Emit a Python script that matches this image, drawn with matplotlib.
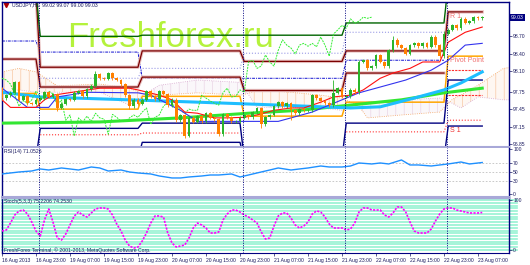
import numpy as np
import matplotlib
matplotlib.use("Agg")
import matplotlib.pyplot as plt

plt.rcParams['font.family'] = ['Liberation Sans', 'DejaVu Sans']
plt.rcParams['hatch.linewidth'] = 0.4
nan = np.nan

# ---------------- USDJPY H1 candles (16 Aug 15:00 .. 23 Aug 08:00) ----------------
closes = [97.64, 97.69, 97.73, 97.91, 97.61, 97.67, 97.55, 97.54, 97.61, 97.64,
          97.74, 97.66, 97.71, 97.47, 97.54, 97.62, 97.61, 97.73, 97.76, 97.67,
          97.79, 97.85, 98.05, 97.98, 97.97, 98.07, 97.98, 97.95, 97.88, 97.69,
          97.50, 97.61, 97.54, 97.61, 97.76, 97.67, 97.62, 97.76, 97.71, 97.52,
          97.61, 97.26, 97.35, 96.99, 97.30, 97.23, 97.33, 97.24, 97.38, 97.30,
          97.28, 97.02, 97.36, 97.31, 97.24, 97.24, 97.30, 97.35, 97.31, 97.40,
          97.47, 97.19, 97.31, 97.35, 97.50, 97.57, 97.50, 97.55, 97.43, 97.38,
          97.45, 97.43, 97.43, 97.69, 97.64, 97.59, 97.55, 97.52, 97.73, 97.81,
          97.66, 97.67, 97.78, 97.74, 98.26, 98.29, 98.15, 98.19, 98.38, 98.26,
          98.19, 98.46, 98.64, 98.55, 98.50, 98.40, 98.55, 98.58, 98.53, 98.58,
          98.52, 98.69, 98.55, 98.36, 98.74, 98.81, 98.89, 98.84, 99.00, 98.93,
          98.96, 99.03, 99.01, 99.03]
first_open = 97.81
wick = 0.025
long_highs = {22: 98.10, 78: 97.95, 84: 98.30, 92: 98.70, 104: 98.80}
long_lows = {13: 97.42, 30: 97.45, 43: 96.95, 61: 97.12, 68: 97.26}

# ---------------- daily pivot levels (6 sessions) ----------------
seg_start = [0, 9, 33, 57, 81, 105]
seg_end = [8, 32, 56, 80, 104, 113]
r3_lvl = [99.45, 98.70, 98.72, 98.72, 98.93, 99.60]
r2_lvl = [99.45, 98.17, 98.45, 98.27, 98.45, 99.12]
r1_lvl = [98.31, 97.83, 98.00, 97.77, 98.07, nan]
pp_lvl = [97.72, 97.45, 97.67, 97.33, 97.57, 98.36]
s1_lvl = [96.60, 97.12, 97.21, 96.60, 97.21, 97.95]
s2_lvl = [nan, 96.60, 96.88, 96.60, 96.60, 97.16]
mid_hi_lvl = [98.62, 98.43, 97.98, 97.98, 98.29, nan]
mid_lo_lvl = [nan, 97.98, 98.15, 98.41, 98.77, nan]
red_lvl = [nan, 97.01, 97.04, nan, 97.06, 97.26]
red2_lvl = [nan, nan, nan, nan, nan, 97.69]
red3_lvl = [nan, nan, nan, nan, nan, 98.12]

# ---------------- moving averages / ichimoku ----------------
cyan_bars = [0, 9, 30, 46, 65, 82, 89, 97, 104, 108, 113]
cyan_vals = [97.74, 97.66, 97.61, 97.57, 97.52, 97.47, 97.49, 97.64, 97.78, 97.90, 98.09]
lime_bars = [0, 23, 42, 58, 70, 82, 94, 104, 113]
lime_vals = [97.21, 97.23, 97.30, 97.38, 97.43, 97.52, 97.61, 97.73, 97.81]
tenkan_bars = [0, 2, 8, 10, 12, 23, 30, 32, 37, 40, 43, 46, 50, 53, 57, 60, 64, 68, 71, 75,
               78, 82, 85, 89, 92, 96, 99, 103, 105, 109, 113]
tenkan_vals = [97.61, 97.48, 97.48, 97.61, 97.69, 97.81, 97.81, 97.78, 97.69, 97.61,
               97.40, 97.38, 97.30, 97.30, 97.31, 97.35, 97.43, 97.47, 97.47, 97.57,
               97.66, 97.69, 97.78, 97.98, 98.07, 98.15, 98.26, 98.26, 98.60, 98.77, 98.86]
kijun_bars = [0, 6, 11, 13, 20, 32, 35, 42, 46, 65, 73, 80, 84, 89, 95, 101, 105, 109, 113]
kijun_vals = [97.81, 97.48, 97.48, 97.66, 97.74, 97.73, 97.69, 97.43, 97.24, 97.24,
              97.40, 97.61, 97.73, 97.83, 97.95, 98.12, 98.29, 98.55, 98.58]
chikou_shift = 26
cloud_bars = [0, 4, 8, 13, 23, 30, 33, 37, 46, 56, 58, 60, 68, 75, 80, 84, 86, 94, 103,
              106, 108, 112, 118, 120]
span_a = [98.09, 98.15, 98.09, 97.85, 97.88, 97.81, 97.72, 97.69, 97.73, 97.69, 97.72,
          97.78, 97.74, 97.69, 97.64, 97.50, 97.30, 97.35, 97.40, 97.62, 97.69, 97.86,
          98.15, 98.17]
span_b = [97.74, 97.78, 97.74, 97.74, 97.74, 97.52, 97.68, 97.86, 97.95, 97.91, 97.70,
          97.48, 97.48, 97.47, 97.43, 97.55, 97.57, 97.61, 97.64, 97.55, 97.47, 97.66,
          97.61, 97.61]

# ---------------- RSI(14) and Stoch(5,3,3) ----------------
rsi_bars = [0, 2, 4, 7, 9, 11, 14, 16, 18, 21, 23, 25, 28, 30, 32, 35, 37, 40, 42, 44,
            47, 49, 51, 54, 56, 58, 61, 63, 65, 68, 70, 72, 75, 77, 80, 82, 84, 87, 89, 91,
            94, 96, 98, 101, 103, 105, 108, 110, 113]
rsi_vals = [45.6, 47.8, 50, 52.2, 56.7, 54.4, 58.9, 56.7, 54.4, 61.1, 58.9, 52.2, 54.4, 50,
            47.8, 45.6, 41.1, 36.7, 36.7, 38.9, 41.1, 43.3, 43.3, 45.6, 38.9, 43.3, 50, 54.4,
            58.9, 54.4, 56.7, 58.9, 63.3, 61.1, 61.1, 63.3, 70, 67.8, 70, 67.8, 76.7, 65.6,
            65.6, 63.3, 65.6, 67.8, 72.2, 67.8, 71.05]
stoch_vals = [38, 40, 54, 70, 78, 80, 72, 56, 38, 28, 60, 82, 56, 24, 20, 32, 50, 68, 76, 70,
              66, 74, 82, 84, 84, 82, 70, 52, 38, 20, 8, 4, 6, 18, 34, 54, 68, 68, 66, 34,
              14, 6, 8, 10, 24, 44, 54, 50, 44, 34, 34, 36, 60, 72, 80, 80, 76, 70, 66, 60,
              54, 36, 22, 24, 48, 68, 74, 74, 64, 50, 44, 48, 56, 72, 78, 76, 66, 52, 44, 44,
              44, 40, 42, 54, 76, 84, 84, 80, 80, 80, 70, 66, 74, 86, 86, 76, 56, 38, 34, 34,
              34, 42, 58, 72, 82, 84, 84, 80, 78, 76, 74, 74, 74, 75]

price_ticks = [98.70, 98.40, 98.10, 97.75, 97.45, 97.15, 96.85]
day_starts = [9, 57, 81, 105]
time_ticks = list(range(0, 113, 8))
time_labels = ['16 Aug 2013', '16 Aug 23:00', '19 Aug 07:00', '19 Aug 15:00', '19 Aug 23:00',
               '20 Aug 07:00', '20 Aug 15:00', '20 Aug 23:00', '21 Aug 07:00', '21 Aug 15:00',
               '21 Aug 23:00', '22 Aug 07:00', '22 Aug 15:00', '22 Aug 23:00', '23 Aug 07:00']

NAVY = '#000080'
TXT = '#1a1a60'
SEP = '#a8a8d8'

bars = np.arange(len(closes))
c = np.array(closes)
o = np.array([first_open] + closes[:-1])
hi = np.maximum(o, c) + wick
lo = np.minimum(o, c) - wick
for k, v in long_highs.items():
    hi[k] = v
for k, v in long_lows.items():
    lo[k] = v

W, H = 530, 265
def rect(x0, y0, x1, y1):
    return [x0 / W, 1 - y1 / H, (x1 - x0) / W, (y1 - y0) / H]

fig = plt.figure(figsize=(5.3, 2.65), dpi=100)
ax = fig.add_axes(rect(2, 2, 509, 147))
ax_rsi = fig.add_axes(rect(2, 148, 509, 197))
ax_st = fig.add_axes(rect(2, 198, 509, 253))
xmax = 119.3

for a in (ax, ax_rsi, ax_st):
    a.set_xlim(0, xmax)
    a.set_facecolor('white')
    for s in ('left', 'right', 'top'):
        a.spines[s].set_color(NAVY)
        a.spines[s].set_linewidth(1)
    a.spines['bottom'].set_color(SEP)
    a.spines['bottom'].set_linewidth(1.5)
    a.yaxis.tick_right()
    a.tick_params(axis='y', labelsize=3.6, colors=TXT, length=2, width=0.5, pad=1)
    for d in day_starts:
        a.axvline(d - 0.2, color=NAVY, lw=0.7, ls=(0, (1, 1.5)), zorder=5)
ax_rsi.spines['top'].set_visible(False)
ax_st.spines['top'].set_color(SEP)
ax_st.spines['bottom'].set_color(NAVY)
ax_st.spines['bottom'].set_linewidth(0.8)

# ---------------- main price panel ----------------
ax.set_ylim(96.80, 99.29)
ax.set_xticks([])
ax.set_yticks(price_ticks)
ax.set_yticklabels([f'{v:.2f}' for v in price_ticks])

ax.text(0.128, 0.69, 'Freshforex.ru', transform=ax.transAxes, fontsize=25,
        color='#b4f23c', va='baseline', ha='left', zorder=0.5)

# ichimoku cloud
ca, cb = np.array(span_a), np.array(span_b)
ax.fill_between(cloud_bars, ca, cb, where=ca >= cb, interpolate=True, facecolor='#f4a460',
                alpha=0.08, lw=0, zorder=1)
ax.fill_between(cloud_bars, ca, cb, where=ca >= cb, interpolate=True, facecolor='none',
                edgecolor='#f6bc90', hatch='||', lw=0, zorder=1)
ax.fill_between(cloud_bars, ca, cb, where=ca < cb, interpolate=True, facecolor='#d8bfd8',
                alpha=0.12, lw=0, zorder=1)
ax.fill_between(cloud_bars, ca, cb, where=ca < cb, interpolate=True, facecolor='none',
                edgecolor='#e6cce0', hatch='||', lw=0, zorder=1)
ax.plot(cloud_bars, span_a, color='#f4a460', lw=0.6, ls=':', zorder=1.2)
ax.plot(cloud_bars, span_b, color='#d8a8d0', lw=0.6, ls=':', zorder=1.2)

def step_line(levels, **kw):
    xs, ys = [], []
    for s, e, v in zip(seg_start, seg_end, levels):
        xs += [s, e]
        ys += [v, v]
    ax.plot(xs, ys, **kw)

step_line(mid_lo_lvl, color='#9a9ae6', lw=0.8, ls=':', zorder=2)
step_line(mid_hi_lvl, color='#1010d0', lw=0.7, ls=(0, (3, 1, 1, 1)), zorder=2)
step_line(red_lvl, color='#ff3030', lw=0.8, ls=':', zorder=2)
step_line(red2_lvl, color='#ff3030', lw=0.8, ls=(0, (2, 1)), zorder=2)
step_line(red3_lvl, color='#ff3030', lw=0.8, ls=(0, (2, 1)), zorder=2)
for lv in (r2_lvl, r1_lvl):
    step_line(lv, color='#e8c0c0', lw=2.4, zorder=2)
    step_line(lv, color='#7b0000', lw=0.9, zorder=2.1)
step_line(r3_lvl, color='#006400', lw=1.0, zorder=2.1)
step_line(pp_lvl, color='#ffa500', lw=1.1, zorder=2.1)
step_line(s1_lvl, color=NAVY, lw=1.0, zorder=2.1)
step_line(s2_lvl, color=NAVY, lw=1.0, zorder=2.1)

ax.text(seg_start[5] + 0.4, r2_lvl[5] - 0.02, 'R 1', color='#f07070', fontsize=5, va='top', zorder=6)
ax.text(seg_start[5] + 0.4, pp_lvl[5] - 0.02, 'Pivot Point', color='#f07070', fontsize=5,
        va='top', zorder=6)
ax.text(seg_start[5] + 0.4, s2_lvl[5] - 0.02, 'S 1', color='#f03030', fontsize=5, va='top', zorder=6)

# moving averages
ax.plot(lime_bars, lime_vals, color='#32e632', lw=2.2, zorder=3.5)
ax.plot(cyan_bars, cyan_vals, color='#1ebeff', lw=2.2, zorder=3.5)
ax.plot(bars[chikou_shift:] - chikou_shift, c[chikou_shift:], color='#33ee33', lw=0.7,
        ls=(0, (2, 1)), zorder=3.6)
ax.plot(kijun_bars, kijun_vals, color='#3333ee', lw=0.8, zorder=3.7)
ax.plot(tenkan_bars, tenkan_vals, color='#ff1010', lw=0.8, zorder=3.7)

# candles
up = c >= o
body = np.maximum(np.abs(c - o), 0.006)
ccol = np.where(up, '#2bb52b', '#ff8000')
ax.vlines(bars, lo, hi, colors=ccol, lw=0.6, zorder=3.8)
ax.bar(bars, body, bottom=np.minimum(o, c), width=0.65, color=ccol, zorder=3.9)

# header and last price tag
ax.plot(0.007, 0.978, marker='v', color='#b00000', ms=3, transform=ax.transAxes, clip_on=False)
ax.text(0.02, 0.978, 'USDJPY,H1  99.02 99.07 99.00 99.03', transform=ax.transAxes,
        fontsize=3.7, color=TXT, va='center', ha='left', zorder=6)
ax.text(1.004, closes[-1], f'{closes[-1]:.2f}', transform=ax.get_yaxis_transform(),
        fontsize=3.7, color='white', va='center', ha='left',
        bbox=dict(facecolor=NAVY, edgecolor='none', pad=0.8), clip_on=False)

# ---------------- RSI panel ----------------
ax_rsi.set_ylim(-5.6, 103.3)
ax_rsi.set_xticks([])
ax_rsi.set_yticks([100, 70, 50, 30, 0])
for lv in (70, 50, 30):
    ax_rsi.axhline(lv, color='#c0c0c0', lw=0.6, ls=(0, (2, 2)), zorder=1)
ax_rsi.plot(rsi_bars, rsi_vals, color='#1e90ff', lw=1.0, zorder=3)
ax_rsi.text(0.004, 0.92, 'RSI(14) 71.0526', transform=ax_rsi.transAxes, fontsize=3.7,
            color=TXT, va='center', ha='left')

# ---------------- Stochastic panel ----------------
ax_st.set_ylim(-6, 104)
ax_st.set_yticks([100, 0])
for lv in np.linspace(0, 100, 19):
    ax_st.axhline(lv, xmin=0, xmax=1.016, color='#96f2d2', lw=1.2, zorder=0.5, clip_on=False)
ax_st.plot(bars, stoch_vals, color='#ff00ff', lw=1.2, ls=(0, (1.3, 0.8)), zorder=3)
ax_st.text(0.004, 0.935, 'Stoch(5,3,3) 75.2206 74.2530', transform=ax_st.transAxes,
           fontsize=3.7, color=TXT, va='center', ha='left', zorder=4)
ax_st.text(0.004, 0.06, 'FreshForex Terminal, \u00a9 2001-2013, MetaQuotes Software Corp.',
           transform=ax_st.transAxes, fontsize=3.7, color=TXT, va='center', ha='left', zorder=4)
ax_st.set_xticks(time_ticks)
ax_st.set_xticklabels(time_labels, ha='left')
ax_st.tick_params(axis='x', labelsize=3.6, colors=TXT, length=2, width=0.5, pad=1.5)

fig.savefig('out.png', dpi=100)
